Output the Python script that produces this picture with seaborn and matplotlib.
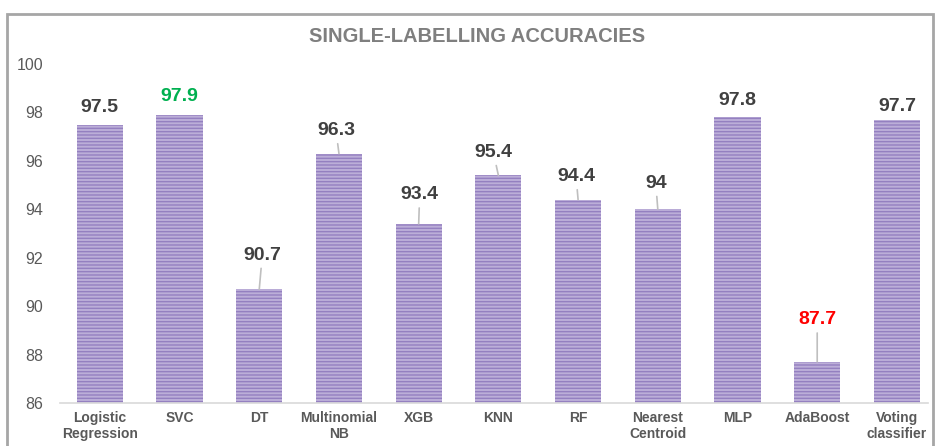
import matplotlib
matplotlib.use("Agg")
import matplotlib.pyplot as plt
import seaborn as sns
import pandas as pd
from matplotlib.patches import Rectangle

categories = ["Logistic\nRegression", "SVC", "DT", "Multinomial\nNB", "XGB", "KNN",
              "RF", "Nearest\nCentroid", "MLP", "AdaBoost", "Voting\nclassifier"]
accuracies = [97.5, 97.9, 90.7, 96.3, 93.4, 95.4, 94.4, 94.0, 97.8, 87.7, 97.7]
value_labels = ["97.5", "97.9", "90.7", "96.3", "93.4", "95.4", "94.4", "94", "97.8", "87.7", "97.7"]
yticks = [86, 88, 90, 92, 94, 96, 98, 100]
title = "SINGLE-LABELLING ACCURACIES"

# layout / style (label offsets in pixels, leader-line flags, colours)
label_offsets = [(0, 17), (0, 18), (3, 34), (-3, 23), (1, 29), (-5, 23),
                 (-2, 23), (-2, 26), (0, 17), (0, 42), (0, 13)]
leaders = [False, False, True, True, True, True, True, True, False, True, False]
label_colors = ["#404040", "#00b050", "#404040", "#404040", "#404040", "#404040",
                "#404040", "#404040", "#404040", "#ff0000", "#404040"]

sns.set_theme(style="white")
plt.rcParams["font.family"] = ["Liberation Sans", "DejaVu Sans"]
plt.rcParams["hatch.linewidth"] = 1.0

W, H = 939, 446
fig = plt.figure(figsize=(W / 100, H / 100), dpi=100)
ax = fig.add_axes([60 / W, 43 / H, (928 - 60) / W, 339 / H])

df = pd.DataFrame({"model": categories, "acc": accuracies})
sns.barplot(data=df, x="model", y="acc", ax=ax, width=0.58,
            color="#bcaed8", saturation=1, edgecolor="#9480c0", linewidth=0)
for p in ax.patches:
    p.set_hatch("-----")
    p.set_edgecolor("#9480c0")
    p.set_linewidth(0)

ax.set_ylim(86, 100)
ax.set_xlim(-0.5, 10.39)
ax.set_yticks(yticks)
ax.set_yticklabels([str(t) for t in yticks], fontsize=11.5, color="#595959")
ax.set_xticks(range(len(categories)))
ax.set_xticklabels(categories, fontsize=10, fontweight="bold", color="#595959",
                   linespacing=1.15)
ax.tick_params(axis="y", length=0, pad=12)
ax.tick_params(axis="x", length=0, pad=6)
ax.set_xlabel("")
ax.set_ylabel("")
for s in ["top", "right", "left"]:
    ax.spines[s].set_visible(False)
ax.spines["bottom"].set_color("#d9d9d9")
ax.spines["bottom"].set_linewidth(1.2)
ax.grid(False)

for i, v in enumerate(accuracies):
    dx, dy = label_offsets[i]
    kw = {}
    if leaders[i]:
        kw["arrowprops"] = dict(arrowstyle="-", color="#bfbfbf", lw=1.2,
                                shrinkA=1, shrinkB=0)
    ax.annotate(value_labels[i], xy=(i, v), xytext=(dx, dy),
                textcoords="offset pixels", ha="center", va="center",
                fontsize=14, fontweight="bold", color=label_colors[i],
                annotation_clip=False, **kw)

fig.text(477 / W, 1 - 37 / H, title, ha="center", va="center",
         fontsize=14.5, fontweight="bold", color="#7f7f7f")

frame = Rectangle((7 / W, -0.1), (933 - 7) / W, (1 - 14 / H) + 0.1,
                  transform=fig.transFigure, fill=False,
                  edgecolor="#a6a6a6", linewidth=2, clip_on=False)
fig.patches.append(frame)

fig.savefig("out.png", dpi=100)
